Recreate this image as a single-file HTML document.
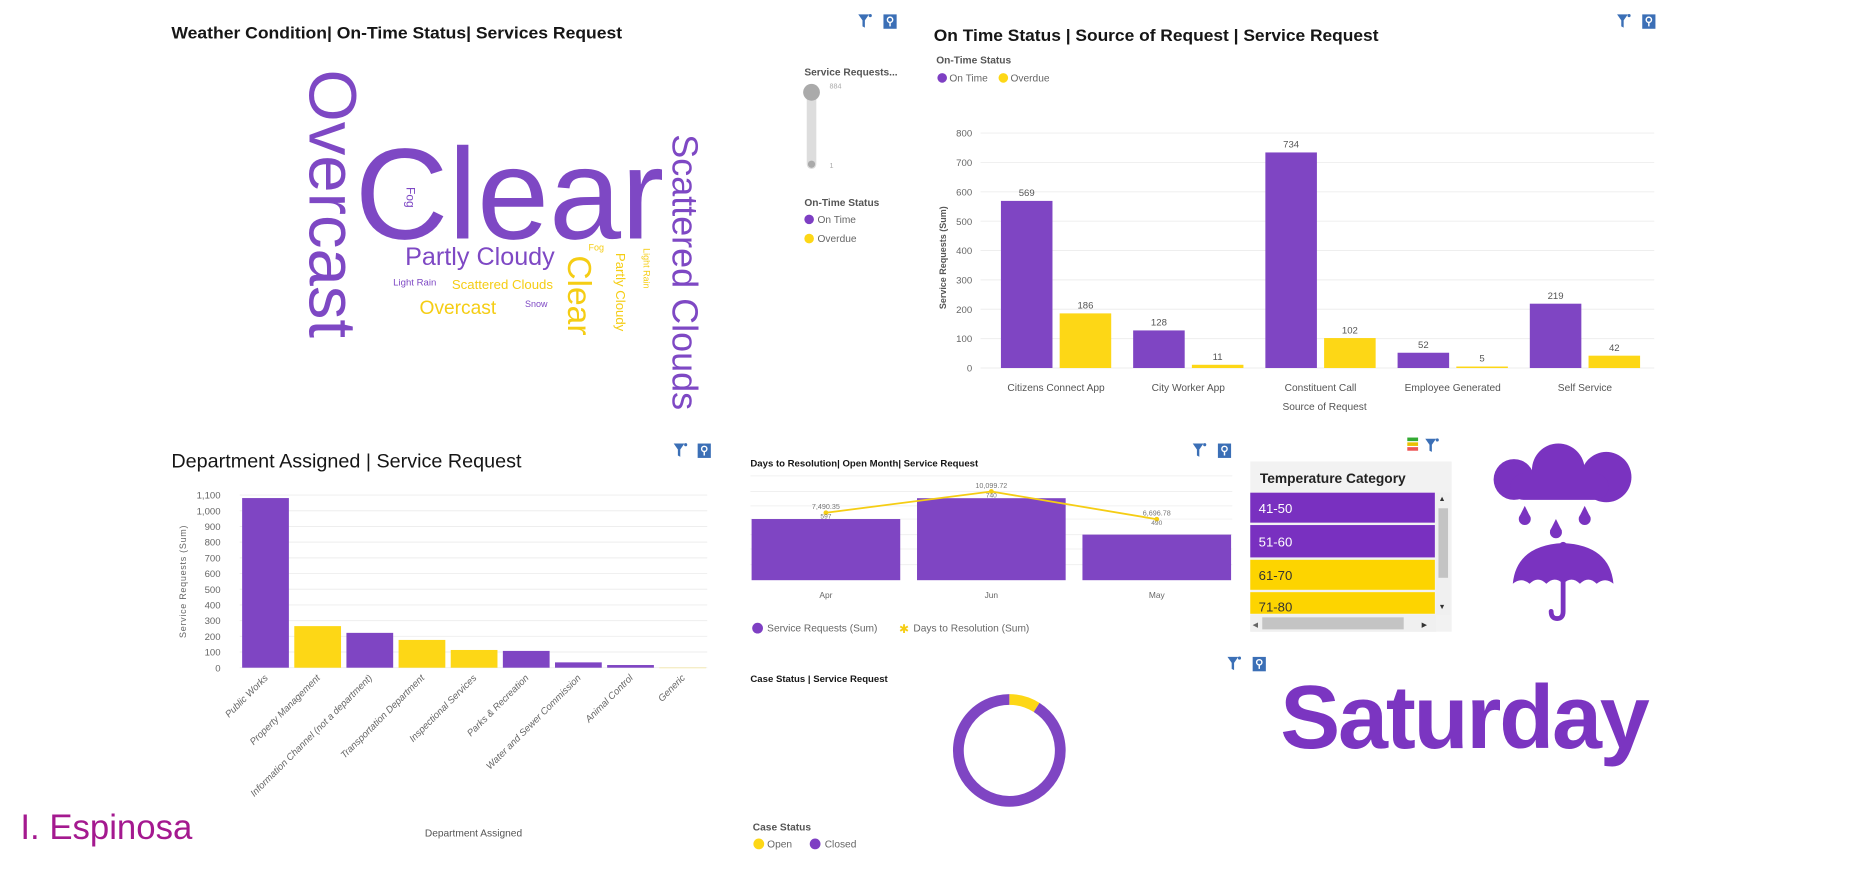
<!DOCTYPE html>
<html><head><meta charset="utf-8"><style>
html,body{margin:0;padding:0;background:#fff;overflow:hidden}
svg{display:block;font-family:"Liberation Sans",sans-serif}
</style></head><body>
<svg id="s" width="1870" height="877" viewBox="0 0 1560 731.6" preserveAspectRatio="none">
<defs>
<g id="ficon"><path d="M0 0 H9 L5.5 5 V11 L3.5 10 V5 Z" fill="#3b6fb6"/><circle cx="10" cy="1" r="1.3" fill="#3b6fb6"/></g>
<g id="picon"><rect x="0" y="0" width="11" height="12" fill="#3b6fb6"/><circle cx="5.5" cy="4.5" r="2.2" fill="none" stroke="#fff" stroke-width="1.2"/><line x1="5.5" y1="6.7" x2="5.5" y2="10" stroke="#fff" stroke-width="1.2"/></g>
</defs>

<!-- Word cloud panel -->
<text x="143" y="32" font-size="13.5" font-weight="bold" fill="#161616" textLength="376" lengthAdjust="spacingAndGlyphs">Weather Condition| On-Time Status| Services Request</text>
<use href="#ficon" x="716" y="12"/>
<use href="#picon" x="737" y="12"/>
<g>
<text transform="translate(258,58) rotate(90)" font-size="56" fill="#7e48c4">Overcast</text>
<text x="296" y="199" font-size="108" fill="#7e48c4">Clear</text>
<text transform="translate(339,156) rotate(90)" font-size="10" fill="#7e48c4">Fog</text>
<text x="338" y="221" font-size="21" fill="#7e48c4">Partly Cloudy</text>
<text x="328" y="238" font-size="8" fill="#7e48c4">Light Rain</text>
<text x="377" y="241" font-size="11" fill="#f5cd14">Scattered Clouds</text>
<text x="350" y="262" font-size="16" fill="#f5cd14">Overcast</text>
<text x="438" y="256" font-size="7.5" fill="#7e48c4">Snow</text>
<text transform="translate(474,213) rotate(90)" font-size="28" fill="#f5cd14">Clear</text>
<text x="491" y="209" font-size="7.5" fill="#f5cd14">Fog</text>
<text transform="translate(514,211) rotate(90)" font-size="11" fill="#f5cd14">Partly Cloudy</text>
<text transform="translate(537,207) rotate(90)" font-size="7.5" fill="#f5cd14">Light Rain</text>
<text transform="translate(561,112) rotate(90)" font-size="30" fill="#7e48c4">Scattered Clouds</text>
</g>
<g>
<text x="671" y="63" font-size="8.5" font-weight="bold" fill="#555">Service Requests...</text>
<line x1="677" y1="77" x2="677" y2="137" stroke="#ddd" stroke-width="8" stroke-linecap="round"/>
<circle cx="677" cy="77" r="7" fill="#aaa"/><circle cx="677" cy="137" r="3" fill="#aaa"/>
<text x="692" y="74" font-size="6" fill="#aaa">884</text><text x="692" y="140" font-size="6" fill="#aaa">1</text>
<text x="671" y="172" font-size="8.5" font-weight="bold" fill="#555">On-Time Status</text>
<circle cx="675" cy="183" r="4" fill="#7e3fc3"/><text x="682" y="186" font-size="8.5" fill="#666">On Time</text>
<circle cx="675" cy="199" r="4" fill="#fdd716"/><text x="682" y="202" font-size="8.5" fill="#666">Overdue</text>
</g>

<!-- Source of request chart -->
<text x="779" y="34" font-size="13.5" font-weight="bold" fill="#161616" textLength="371" lengthAdjust="spacingAndGlyphs">On Time Status | Source of Request | Service Request</text>
<use href="#ficon" x="1349" y="12"/>
<use href="#picon" x="1370" y="12"/>
<text x="781" y="53" font-size="8.5" fill="#555" font-weight="bold">On-Time Status</text>
<g><circle cx="786" cy="65" r="4" fill="#7e3fc3"/><text x="792" y="68" font-size="8.5" fill="#666">On Time</text></g>
<g><circle cx="837" cy="65" r="4" fill="#fdd716"/><text x="843" y="68" font-size="8.5" fill="#666">Overdue</text></g>
<g id="srcChart"></g>
<text transform="translate(789,215) rotate(-90)" text-anchor="middle" font-size="7.5" font-weight="bold" fill="#555">Service Requests (Sum)</text>
<text x="1105" y="342" text-anchor="middle" font-size="8.5" fill="#555">Source of Request</text>

<!-- Department chart -->
<text x="143" y="390" font-size="16.5" fill="#161616">Department Assigned | Service Request</text>
<use href="#ficon" x="562" y="370"/>
<use href="#picon" x="582" y="370"/>
<g id="deptChart"></g>
<text transform="translate(155,485) rotate(-90)" text-anchor="middle" font-size="7.5" fill="#666" letter-spacing="0.6">Service Requests (Sum)</text>
<text x="395" y="698" text-anchor="middle" font-size="8.5" fill="#555">Department Assigned</text>
<text x="17" y="700" font-size="29" fill="#a4198f">I. Espinosa</text>

<!-- Days to resolution -->
<text x="626" y="389" font-size="8" font-weight="bold" fill="#161616">Days to Resolution| Open Month| Service Request</text>
<use href="#ficon" x="995" y="370"/>
<use href="#picon" x="1016" y="370"/>
<g id="daysChart"></g>
<g><circle cx="632" cy="524" r="4.5" fill="#7e3fc3"/><text x="640" y="527" font-size="8.5" fill="#666">Service Requests (Sum)</text></g>
<g><text x="750" y="528" font-size="10" fill="#f5cd14">✱</text><text x="762" y="527" font-size="8.5" fill="#666">Days to Resolution (Sum)</text></g>

<!-- Case status -->
<text x="626" y="569" font-size="8" font-weight="bold" fill="#161616">Case Status | Service Request</text>
<use href="#ficon" x="1024" y="548"/>
<use href="#picon" x="1045" y="548"/>
<g id="donut"></g>
<text x="628" y="693" font-size="8.5" fill="#555" font-weight="bold">Case Status</text>
<g><circle cx="633" cy="704" r="4.5" fill="#fdd716"/><text x="640" y="707" font-size="8.5" fill="#666">Open</text></g>
<g><circle cx="680" cy="704" r="4.5" fill="#7e3fc3"/><text x="688" y="707" font-size="8.5" fill="#666">Closed</text></g>

<!-- Temperature table -->
<g>
<rect x="1174" y="365" width="9" height="3" fill="#3a3"/><rect x="1174" y="369" width="9" height="3" fill="#e9c000"/><rect x="1174" y="373" width="9" height="3" fill="#e55"/>
<use href="#ficon" x="1189" y="366"/></g>
<g>
<rect x="1043" y="385" width="168" height="142" fill="#f2f2f2"/>
<text x="1051" y="403" font-size="11.5" font-weight="bold" fill="#222">Temperature Category</text>
<rect x="1043" y="411" width="154" height="25" fill="#7930c0"/><text x="1050" y="428" font-size="11" fill="#fff">41-50</text>
<rect x="1043" y="438" width="154" height="27" fill="#7930c0"/><text x="1050" y="456" font-size="11" fill="#fff">51-60</text>
<rect x="1043" y="467" width="154" height="25" fill="#fdd400"/><text x="1050" y="484" font-size="11" fill="#333">61-70</text>
<rect x="1043" y="494" width="154" height="18" fill="#fdd400"/><text x="1050" y="510" font-size="11" fill="#333">71-80</text>
<rect x="1198" y="411" width="12" height="102" fill="#f0f0f0"/><rect x="1200" y="424" width="8" height="58" fill="#c4c4c4"/>
<text x="1200" y="418" font-size="6" fill="#333">▲</text><text x="1200" y="508" font-size="6" fill="#333">▼</text>
<rect x="1043" y="513" width="155" height="14" fill="#f0f0f0"/><rect x="1053" y="515" width="118" height="10" fill="#c4c4c4"/>
<text x="1045" y="523" font-size="6" fill="#666">◀</text><text x="1186" y="523" font-size="6" fill="#333">▶</text>
</g>

<!-- Weather icon -->
<g fill="#7a33c0">
<circle cx="1263" cy="400" r="17"/><circle cx="1300" cy="392" r="22"/><circle cx="1340" cy="398" r="21"/>
<rect x="1260" y="395" width="82" height="22" rx="11"/>
<circle cx="1272" cy="433" r="5"/><path d="M1272 422 l-5 10 h10z"/>
<circle cx="1298" cy="444" r="5"/><path d="M1298 433 l-5 10 h10z"/>
<circle cx="1322" cy="433" r="5"/><path d="M1322 422 l-5 10 h10z"/>
<path d="M1262 487 Q1265 455 1304 453 Q1343 455 1346 487 Q1339 481 1332 487 Q1325 480 1318 487 Q1311 480 1304 487 Q1297 480 1290 487 Q1283 480 1276 487 Q1269 481 1262 487 Z"/>
<path d="M1304 485 V510 q0 6 -5 6 q-5 0 -5 -6" fill="none" stroke="#7a33c0" stroke-width="4" stroke-linecap="round"/>
<circle cx="1304" cy="455" r="3"/>
</g>
<text x="1068" y="624" font-size="75" font-weight="bold" fill="#7b35c1" letter-spacing="-1.8">Saturday</text>
</svg>
<script>
// ---- Source of request data ----
const srcCategories = ["Citizens Connect App","City Worker App","Constituent Call","Employee Generated","Self Service"];
const srcOnTime = [569,128,734,52,219];
const srcOverdue = [186,11,102,5,42];
const srcTicks = [0,100,200,300,400,500,600,700,800];
// ---- Department data ----
const deptCategories = ["Public Works","Property Management","Information Channel (not a department)","Transportation Department","Inspectional Services","Parks & Recreation","Water and Sewer Commission","Animal Control","Generic"];
const deptValues = [1081,265,222,177,113,107,34,17,2];
const deptStatus = ["on","over","on","over","over","on","on","on","over"];
const deptTicks = [0,100,200,300,400,500,600,700,800,900,1000,1100];
// ---- Days to resolution data ----
const monthCategories = ["Apr","Jun","May"];
const monthRequests = [597,740,490];
const monthDays = [7490.35,10099.72,6696.78];
// ---- Case status ----
const caseLabels = ["Open","Closed"];
const caseValues = [9,91];

const NS="http://www.w3.org/2000/svg";
function mk(parent,tag,attrs,txt){const e=document.createElementNS(NS,tag);for(const k in attrs)e.setAttribute(k,attrs[k]);if(txt!==undefined)e.textContent=txt;parent.appendChild(e);return e;}
const P="#7f45c3",Y="#fdd716";

// Source chart
(function(){
 const g=document.getElementById('srcChart');
 const y=v=>307-v*(196/800);
 srcTicks.forEach(t=>{
  const l=mk(g,'line',{x1:818,x2:1380,y1:y(t),y2:y(t),stroke:'#eee','stroke-width':0.8});
  
  
  const tx=mk(g,'text',{x:811,y:y(t)+3,'text-anchor':'end','font-size':8,fill:'#666'},t);
  
  
 });
 srcCategories.forEach((c,i)=>{
  const x0=835+i*110.3;
  [[srcOnTime[i],P,x0],[srcOverdue[i],Y,x0+49]].forEach(([v,col,x])=>{
   const r=mk(g,'rect',{x:x,y:y(v),width:43,height:307-y(v),fill:col});
   
   
   const t=mk(g,'text',{x:x+21.5,y:y(v)-4,'text-anchor':'middle','font-size':8,fill:'#555'},v);
   
   
  });
  const lb=mk(g,'text',{x:x0+46,y:326,'text-anchor':'middle','font-size':8.5,fill:'#555'},c);
  
  
 });
})();

// Department chart
(function(){
 const g=document.getElementById('deptChart');
 const y=v=>557-v*(144/1100);
 deptTicks.forEach(t=>{
  const l=mk(g,'line',{x1:200,x2:590,y1:y(t),y2:y(t),stroke:'#eee','stroke-width':0.8});
  
  
  const tx=mk(g,'text',{x:184,y:y(t)+3,'text-anchor':'end','font-size':8,fill:'#666'},t.toLocaleString('en-US'));
  
  
 });
 deptCategories.forEach((c,i)=>{
  const x=202+i*43.5, v=deptValues[i];
  const r=mk(g,'rect',{x:x,y:y(v),width:39,height:Math.max(557-y(v),0.8),fill:deptStatus[i]==='on'?P:Y,opacity:c==='Generic'?0.3:1});
  
  
  const cx=x+22;
  const t=mk(g,'text',{transform:`translate(${cx},566) rotate(-45)`,'text-anchor':'end','font-size':8,'font-style':'italic',fill:'#666'},c);
  
  
 });
})();

// Days to resolution
(function(){
 const g=document.getElementById('daysChart');
 [397,410,422,433,446,458,471].forEach(gy=>{
  const l=mk(g,'line',{x1:626,x2:1028,y1:gy,y2:gy,stroke:'#f0f0f0','stroke-width':0.8});
  
  
 });
 const yb=v=>484-(v-177)*0.1215;
 const yl=v=>410+(10099.72-v)*0.0068;
 const pts=[];
 monthCategories.forEach((m,i)=>{
  const cx=689+i*138;
  const r=mk(g,'rect',{x:cx-62,y:yb(monthRequests[i]),width:124,height:484-yb(monthRequests[i]),fill:P});
  
  
  const t=mk(g,'text',{x:cx,y:499,'text-anchor':'middle','font-size':7,fill:'#666'},m);
  
  
  pts.push([cx,yl(monthDays[i])]);
 });
 const ln=mk(g,'polyline',{points:pts.map(p=>p.join(',')).join(' '),fill:'none',stroke:'#f5cd14','stroke-width':1.5});
 
 
 pts.forEach((p,i)=>{
  const c=mk(g,'circle',{cx:p[0],cy:p[1],r:2,fill:'#f5cd14'});
  
  
  const t=mk(g,'text',{x:p[0],y:p[1]-3,'text-anchor':'middle','font-size':6,fill:'#777'},monthDays[i].toLocaleString('en-US',{minimumFractionDigits:2}));
  
  
  const t2=mk(g,'text',{x:p[0],y:p[1]+5,'text-anchor':'middle','font-size':5.5,fill:'#777'},monthRequests[i]);
  
  
 });
})();

// Donut
(function(){
 const g=document.getElementById('donut');
 const cx=842,cy=626,r=42.5,total=caseValues.reduce((a,b)=>a+b,0);
 let a0=0;
 caseValues.forEach((v,i)=>{
  const a1=a0+v/total*2*Math.PI;
  const p=(a)=>[cx+r*Math.sin(a),cy-r*Math.cos(a)];
  const [x0,y0]=p(a0),[x1,y1]=p(a1);
  const large=(a1-a0)>Math.PI?1:0;
  const path=mk(g,'path',{d:`M${x0} ${y0} A${r} ${r} 0 ${large} 1 ${x1} ${y1}`,fill:'none',stroke:i===0?Y:P,'stroke-width':9});
  
  
  a0=a1;
 });
})();
</script>
</body></html>
